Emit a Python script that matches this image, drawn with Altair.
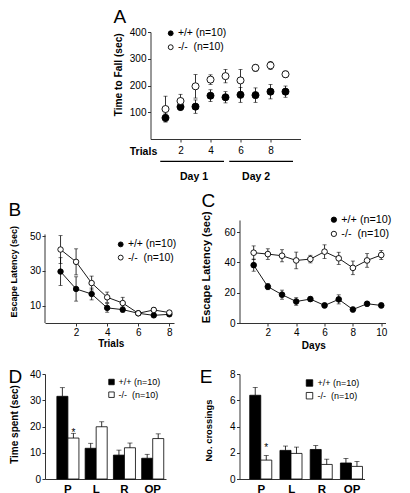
import altair as alt
import pandas as pd

FONT = "Liberation Sans"
WT = "+/+ (n=10)"
KO = "-/-\u00a0 (n=10)"
GENOS = [WT, KO]

# ---------------- Panel A : rotarod ----------------
a_trial = [1, 2, 3, 4, 5, 6, 7, 8, 9]
a_wt = [79, 120, 121, 162, 156, 165, 164, 177, 177]
a_wt_err = [15, 14, 25, 22, 21, 28, 27, 27, 21]
a_ko = [112, 142, 197, 222, 235, 219, 266, 275, 242]
a_ko_err = [48, 25, 44, 18, 25, 41, 13, 15, 12]
day_names = ["Day 1", "Day 2"]
day_start = [0.65, 5.25]
day_end = [4.9, 9.5]
day_text_x = [2.9, 7.04]

# ---------------- Panel B : visible platform ----------------
b_trial = [1, 2, 3, 4, 5, 6, 7, 8]
b_wt = [29.6, 19.6, 16.7, 8.7, 7.7, 5.6, 4.4, 5.0]
b_wt_err = [8, 7, 3.4, 2.5, 1.5, 1, 1, 1]
b_ko = [42.3, 35.2, 23.0, 14.8, 11.5, 5.6, 7.5, 6.0]
b_ko_err = [8, 7.5, 4, 3, 3.3, 1, 1.5, 1]

# ---------------- Panel C : hidden platform ----------------
c_day = [1, 2, 3, 4, 5, 6, 7, 8, 9, 10]
c_wt = [38.2, 24.0, 18.7, 14.2, 15.8, 11.6, 15.6, 8.9, 12.7, 11.6]
c_wt_err = [4, 2, 3, 2.5, 1.5, 1.5, 3, 1.5, 1.5, 1.5]
c_ko = [46.4, 45.5, 44.4, 41.3, 42.2, 47.1, 42.7, 36.4, 41.3, 44.9]
c_ko_err = [4.5, 3.5, 4, 5.5, 2.5, 4.5, 4, 4.5, 4.5, 3]

# ---------------- Panels D / E : probe trial ----------------
quad = ["P", "L", "R", "OP"]
d_wt = [31.5, 11.7, 9.1, 7.9]
d_wt_err = [3.3, 1.9, 1.9, 1.5]
d_ko = [15.6, 19.9, 11.9, 15.4]
d_ko_err = [1.8, 1.9, 1.8, 1.8]
e_wt = [6.38, 2.18, 2.25, 1.22]
e_wt_err = [0.6, 0.33, 0.3, 0.35]
e_ko = [1.44, 1.95, 1.11, 0.96]
e_ko_err = [0.35, 0.48, 0.4, 0.38]
star_quad = "P"


def long_df(xs, wt, wt_err, ko, ko_err, xname="x"):
    rows = []
    for g, vals, errs in [(WT, wt, wt_err), (KO, ko, ko_err)]:
        for xi, v, e in zip(xs, vals, errs):
            rows.append({xname: xi, "y": v, "lo": v - e, "hi": v + e, "geno": g})
    return pd.DataFrame(rows)


def fill_enc(leg):
    return alt.Fill("geno:N", scale=alt.Scale(domain=GENOS, range=["black", "white"]),
                    legend=leg)


def line_panel(df, xdom, ydom, w, h, xaxis, yaxis, pt_size, leg, connect, title, yline=None):
    xs = alt.Scale(domain=xdom, nice=False, zero=False)
    ys = alt.Scale(domain=ydom, nice=False)
    X = alt.X("x:Q", scale=xs, axis=xaxis)
    base = alt.Chart(df)
    rules = base.mark_rule(color="black", strokeWidth=0.8).encode(
        x=X, y=alt.Y("lo:Q", scale=ys, axis=yaxis), y2="hi:Q")
    cap_hi = base.mark_tick(color="black", orient="horizontal", size=4, thickness=0.8).encode(
        x=X, y=alt.Y("hi:Q", scale=ys, axis=yaxis))
    cap_lo = base.mark_tick(color="black", orient="horizontal", size=4, thickness=0.8).encode(
        x=X, y=alt.Y("lo:Q", scale=ys, axis=yaxis))
    layers = [rules, cap_hi, cap_lo]
    if yline is not None:
        layers.append(alt.Chart(pd.DataFrame({"x0": [xdom[0]], "y0": [0], "y1": [yline]}))
                      .mark_rule(color="#333", strokeWidth=1).encode(
            x=alt.X("x0:Q", scale=xs, axis=xaxis),
            y=alt.Y("y0:Q", scale=ys, axis=yaxis), y2="y1:Q"))
    if connect:
        layers.append(base.mark_line(color="black", strokeWidth=0.9).encode(
            x=X, y=alt.Y("y:Q", scale=ys, axis=yaxis), detail="geno:N"))
    layers.append(base.mark_circle(size=pt_size, stroke="black", strokeWidth=0.9, opacity=1).encode(
        x=X, y=alt.Y("y:Q", scale=ys, axis=yaxis), fill=fill_enc(leg)))
    return alt.layer(*layers).properties(width=w, height=h, title=title), xs


def letter(t, dx, dy):
    return alt.TitleParams(t, anchor="start", frame="group", fontSize=19, fontWeight="normal",
                           font=FONT, color="black", dx=dx, dy=dy, offset=0)


def yaxis(values, title, tx, ty, fs, domain=True):
    return alt.Axis(values=values, title=title, titleX=tx, titleY=ty, titleAngle=-90,
                    titleAlign="center", titleBaseline="middle", titleFontSize=fs,
                    titleFontWeight="bold", labelFontSize=10, tickSize=3, labelPadding=1.5,
                    grid=False, domain=domain)


def xaxis(values, title, tx, ty, fs, pad):
    return alt.Axis(values=values, title=title, titleX=tx, titleY=ty, titleAngle=0,
                    titleAlign="center", titleBaseline="middle", titleFontSize=fs,
                    titleFontWeight="bold", labelFontSize=10, tickSize=3, labelPadding=pad,
                    labelAngle=0, grid=False)


def circle_legend(lx, ly, fs, rowpad, size):
    return alt.Legend(title=None, orient="none", legendX=lx, legendY=ly, padding=0,
                      symbolType="circle", symbolSize=size, symbolStrokeColor="black",
                      symbolStrokeWidth=0.9, labelFontSize=fs, labelOffset=2,
                      rowPadding=rowpad, labelFont=FONT, labelColor="black")


# ----- A -----
dfA = long_df(a_trial, a_wt, a_wt_err, a_ko, a_ko_err)
axA_x = xaxis([2, 4, 6, 8], "Trials", -7.5, 12.5, 10.5, 3.5)
A, xsA = line_panel(
    dfA, [0, 10], [0, 400], 150, 107,
    axA_x,
    yaxis([100, 200, 300, 400], "Time to Fall (sec)", -32.2, 42.3, 10.2),
    50, circle_legend(15, -3.9, 10.4, 2.9, 24), False, letter("A", -37, 0))
days = pd.DataFrame({"name": day_names, "start": day_start, "end": day_end, "mid": day_text_x})
day_rules = alt.Chart(days).mark_rule(color="black", strokeWidth=1.3).encode(
    x=alt.X("start:Q", scale=xsA, axis=axA_x), x2="end:Q", y=alt.value(129.3))
day_text = alt.Chart(days).mark_text(font=FONT, fontSize=10.5, fontWeight="bold",
                                     baseline="middle", color="black").encode(
    x=alt.X("mid:Q", scale=xsA, axis=axA_x), y=alt.value(145.3), text="name:N")
A = alt.layer(A, day_rules, day_text)

# ----- B -----
dfB = long_df(b_trial, b_wt, b_wt_err, b_ko, b_ko_err)
B, _ = line_panel(
    dfB, [0, 8.3], [0, 59.3], 129, 103,
    xaxis([2, 4, 6, 8], "Trials", 65.7, 20.3, 10, 1),
    yaxis([10, 30, 50], "Escape Latency (sec)", -31.7, 51.2, 9, domain=False),
    30, circle_legend(70.5, 19.2, 10.4, 2.2, 24), True, letter("B", -36.5, 0), yline=51)

# ----- C -----
dfC = long_df(c_day, c_wt, c_wt_err, c_ko, c_ko_err)
C, _ = line_panel(
    dfC, [0, 10.3], [0, 68], 146, 103,
    xaxis([2, 4, 6, 8, 10], "Days", 73.8, 22, 10, 1.5),
    yaxis([0, 20, 40, 60], "Escape Latency (sec)", -33, 46.7, 11),
    32, circle_legend(89, -5.7, 10.8, 2.2, 28), True, letter("C", -38, 0))


# ----- bar panels -----
def bar_panel(wt, wt_err, ko, ko_err, ydom, w, h, yax, leg, pin, pout, align, star_dy, title):
    df = long_df(quad, wt, wt_err, ko, ko_err, xname="cat")
    xs = alt.Scale(domain=quad, paddingInner=pin, paddingOuter=pout, align=align)
    X = alt.X("cat:N", scale=xs, sort=quad,
              axis=alt.Axis(title=None, labelAngle=0, labelFontWeight="bold", labelFontSize=11.5,
                            ticks=False, labelPadding=4))
    XO = alt.XOffset("geno:N", scale=alt.Scale(domain=GENOS, paddingInner=0, paddingOuter=0))
    ys = alt.Scale(domain=ydom, nice=False)
    base = alt.Chart(df)
    bars = base.mark_bar(stroke="black", strokeWidth=0.8).encode(
        x=X, xOffset=XO, y=alt.Y("y:Q", scale=ys, axis=yax), fill=fill_enc(leg))
    err = base.mark_rule(color="black", strokeWidth=0.8).encode(
        x=X, xOffset=XO, y=alt.Y("y:Q", scale=ys, axis=yax), y2="hi:Q")
    cap = base.mark_tick(color="black", orient="horizontal", size=5, thickness=0.8).encode(
        x=X, xOffset=XO, y=alt.Y("hi:Q", scale=ys, axis=yax))
    star = base.transform_filter(
        (alt.datum.cat == star_quad) & (alt.datum.geno == KO)
    ).mark_text(text="*", font=FONT, fontSize=10, baseline="middle", dy=star_dy,
                color="black").encode(
        x=X, xOffset=XO, y=alt.Y("hi:Q", scale=ys, axis=yax))
    return alt.layer(bars, err, cap, star).properties(width=w, height=h, title=title)


def square_legend(lx, ly, fs, rowpad, size, off):
    return alt.Legend(title=None, orient="none", legendX=lx, legendY=ly, padding=0,
                      symbolType="square", symbolSize=size, symbolStrokeColor="black",
                      symbolStrokeWidth=0.8, labelFontSize=fs, labelOffset=off,
                      rowPadding=rowpad, labelFont=FONT, labelColor="black")


D = bar_panel(d_wt, d_wt_err, d_ko, d_ko_err, [0, 40], 121, 105,
              yaxis([0, 10, 20, 30, 40], "Time spent (sec)", -30.7, 50, 10),
              square_legend(62, 3.5, 9, 2.7, 30, 2.5), 0.22, 0.25, 0.84, -0.5,
              letter("D", -36.5, 18))
E = bar_panel(e_wt, e_wt_err, e_ko, e_ko_err, [0, 8], 125, 105,
              yaxis([0, 2, 4, 6, 8], "No. crossings", -31.5, 56, 9.4),
              square_legend(65.5, 4.5, 9, 1.7, 42, 3.5), 0.225, 0.18, 0.94, -7.7,
              letter("E", -39.7, 18))

spacer = alt.Chart(pd.DataFrame({"s": [0]})).mark_rule(strokeOpacity=0).encode(
    x=alt.value(0), x2=alt.value(105), y=alt.value(0)).properties(width=105, height=10)


def ind(ch):
    return ch.resolve_scale(fill="independent").resolve_legend(fill="independent")


row1 = ind(alt.hconcat(spacer, A, spacing=0.5, bounds="flush"))
row2 = ind(alt.hconcat(B, C, spacing=65.5, bounds="flush"))
row3 = ind(alt.hconcat(D, E, spacing=73.5, bounds="flush"))
top = ind(alt.vconcat(row1, row2, spacing=8))
chart = ind(alt.vconcat(top, row3, spacing=18)).properties(
    padding=0
).configure(font=FONT).configure_view(strokeWidth=0).configure_axis(
    labelFont=FONT, titleFont=FONT, labelColor="black", titleColor="black",
    domainColor="#333", tickColor="#333", grid=False
).configure_legend(labelFont=FONT, labelColor="black").configure_title(font=FONT, color="black")

chart.save("out.html", embed_options={"renderer": "svg", "actions": False})
